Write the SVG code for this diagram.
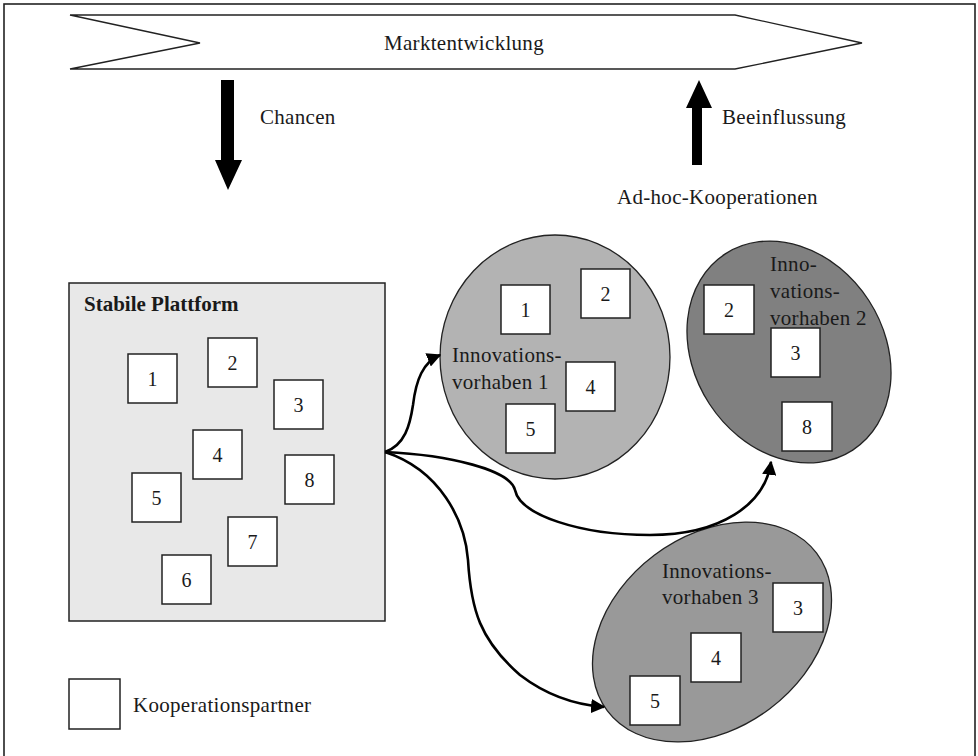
<svg xmlns="http://www.w3.org/2000/svg" width="978" height="756" viewBox="0 0 978 756" font-family="'Liberation Serif', 'DejaVu Serif', serif">
  <defs>
    <style>
      text { font-family: "Liberation Serif", "DejaVu Serif", serif; fill: #1a1a1a; }
      .lbl { font-size: 21px; letter-spacing: 0.3px; }
      .num { font-size: 20px; text-anchor: middle; }
      .title { font-size: 21px; font-weight: bold; }
      .box { fill: #ffffff; stroke: #222; stroke-width: 1.5; }
      .conn { fill: none; stroke: #000; stroke-width: 2.6; }
    </style>
    <marker id="arrow" viewBox="0 0 10 10" refX="9" refY="5" markerWidth="5.5" markerHeight="5.5" markerUnits="strokeWidth" orient="auto">
      <path d="M0,0 L10,5 L0,10 z" fill="#000"/>
    </marker>
  </defs>

  <!-- outer frame -->
  <rect x="4" y="4" width="971" height="780" fill="#ffffff" stroke="#222" stroke-width="1.6"/>

  <!-- market development banner -->
  <g id="marktentwicklung">
    <polygon points="70,15 735,15 862,43 735,69 70,69 200,43" fill="#ffffff" stroke="#222" stroke-width="1.3"/>
    <text class="lbl" x="464" y="50" text-anchor="middle">Marktentwicklung</text>
  </g>

  <!-- opportunities arrow -->
  <g id="chancen">
    <polygon points="221,80 234,80 234,160 242,160 228,190 215,160 221,160" fill="#000"/>
    <text class="lbl" x="260" y="124">Chancen</text>
  </g>

  <!-- influence arrow -->
  <g id="beeinflussung">
    <polygon points="692,165 702,165 702,108 712,108 699,80 686,108 692,108" fill="#000"/>
    <text class="lbl" x="722" y="124">Beeinflussung</text>
    <text class="lbl" x="617" y="204">Ad-hoc-Kooperationen</text>
  </g>

  <!-- stable platform -->
  <g id="plattform">
    <rect x="69" y="283" width="316" height="338" fill="#e8e8e8" stroke="#222" stroke-width="1.5"/>
    <text class="title" x="84" y="311">Stabile Plattform</text>
    <rect class="box" x="128" y="354" width="49" height="49"/><text class="num" x="152.5" y="386">1</text>
    <rect class="box" x="208" y="338" width="49" height="49"/><text class="num" x="232.5" y="370">2</text>
    <rect class="box" x="274" y="380" width="49" height="49"/><text class="num" x="298.5" y="412">3</text>
    <rect class="box" x="193" y="430" width="49" height="49"/><text class="num" x="217.5" y="462">4</text>
    <rect class="box" x="132" y="473" width="49" height="49"/><text class="num" x="156.5" y="505">5</text>
    <rect class="box" x="285" y="455" width="49" height="49"/><text class="num" x="309.5" y="487">8</text>
    <rect class="box" x="228" y="517" width="49" height="49"/><text class="num" x="252.5" y="549">7</text>
    <rect class="box" x="162" y="555" width="49" height="49"/><text class="num" x="186.5" y="587">6</text>
  </g>

  <!-- innovation project 1 -->
  <g id="vorhaben1">
    <ellipse cx="555" cy="357" rx="115" ry="122" fill="#b3b3b3" stroke="#222" stroke-width="1.3"/>
    <rect class="box" x="501" y="285" width="49" height="49"/><text class="num" x="525.5" y="317">1</text>
    <rect class="box" x="581" y="269" width="49" height="49"/><text class="num" x="605.5" y="301">2</text>
    <rect class="box" x="566" y="362" width="49" height="49"/><text class="num" x="590.5" y="394">4</text>
    <rect class="box" x="506" y="404" width="49" height="49"/><text class="num" x="530.5" y="436">5</text>
    <text class="lbl" x="452" y="362">Innovations-</text>
    <text class="lbl" x="452" y="389">vorhaben 1</text>
  </g>

  <!-- innovation project 2 -->
  <g id="vorhaben2">
    <ellipse cx="789" cy="352" rx="95" ry="117" transform="rotate(-33 789 352)" fill="#808080" stroke="#222" stroke-width="1.3"/>
    <rect class="box" x="704" y="285" width="50" height="49"/><text class="num" x="729" y="317">2</text>
    <rect class="box" x="771" y="328" width="49" height="49"/><text class="num" x="795.5" y="360">3</text>
    <rect class="box" x="782" y="402" width="50" height="49"/><text class="num" x="807" y="434">8</text>
    <text class="lbl" x="770" y="271">Inno-</text>
    <text class="lbl" x="770" y="298">vations-</text>
    <text class="lbl" x="770" y="325">vorhaben 2</text>
  </g>

  <!-- innovation project 3 -->
  <g id="vorhaben3">
    <ellipse cx="712" cy="632" rx="131" ry="96" transform="rotate(-37 712 632)" fill="#999999" stroke="#222" stroke-width="1.3"/>
    <rect class="box" x="773" y="583" width="50" height="49"/><text class="num" x="798" y="615">3</text>
    <rect class="box" x="691" y="633" width="50" height="49"/><text class="num" x="716" y="665">4</text>
    <rect class="box" x="630" y="676" width="50" height="49"/><text class="num" x="655" y="708">5</text>
    <text class="lbl" x="662" y="578">Innovations-</text>
    <text class="lbl" x="662" y="604">vorhaben 3</text>
  </g>

  <!-- connectors from the platform to the projects -->
  <g id="connectors">
    <path class="conn" marker-end="url(#arrow)" d="M385,452 C405,445 410,425 413,405 C416,380 423,362 440,355"/>
    <path class="conn" marker-end="url(#arrow)" d="M385,452 C450,455 510,470 515,490 C520,515 580,535 650,535 C720,535 765,505 771,462"/>
    <path class="conn" marker-end="url(#arrow)" d="M385,452 C440,470 465,520 468,560 C471,610 480,640 520,675 C550,698 578,705 604,707"/>
  </g>

  <!-- legend -->
  <g id="legende">
    <rect class="box" x="69" y="679" width="51" height="50"/>
    <text class="lbl" x="133" y="712">Kooperationspartner</text>
  </g>
</svg>
